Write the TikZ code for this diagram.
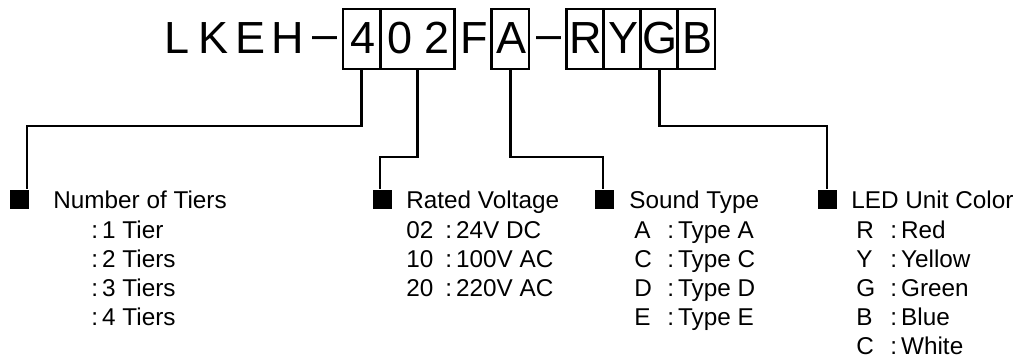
\documentclass[tikz,border=0pt]{standalone}
\usepackage{fontspec}
\setmainfont{Liberation Sans}
\begin{document}
\begin{tikzpicture}[x=1pt,y=-1pt,line width=2.8pt,line join=miter,
  ttl/.style={anchor=base,inner sep=0pt,font=\fontsize{45}{45}\selectfont},
  cbox/.style={draw,line width=2.8pt,minimum height=60pt,inner sep=0pt},
  bul/.style={fill=black,minimum size=19pt,inner sep=0pt},
  lbl/.style={anchor=base west,inner sep=0pt,font=\fontsize{24.3}{25}\selectfont}]
\useasboundingbox (0,0) rectangle (1022,361);
% boxes
\node[cbox,minimum width=37.2pt] (b4) at (361.6,39) {};
\node[cbox,minimum width=74.4pt] (b02) at (417.4,39) {};
\node[cbox,minimum width=37.2pt] (bA) at (510.4,39) {};
\node[cbox,minimum width=37.2pt] (bR) at (584.8,39) {};
\node[cbox,minimum width=37.2pt] (bY) at (622,39) {};
\node[cbox,minimum width=37.2pt] (bG) at (659.2,39) {};
\node[cbox,minimum width=37.2pt] (bB) at (696.4,39) {};
% title characters
\node[ttl] (tL) at (176.6,54) {L};
\node[ttl] (tK) at (213.8,54) {K};
\node[ttl] (tE) at (251,54) {E};
\node[ttl] (tH) at (288.2,54) {H};
\node[ttl] (td1) at (325.4,54) {\raisebox{5pt}{–}};
\node[ttl] (t4) at (362.6,54) {4};
\node[ttl] (t0) at (399.8,54) {0};
\node[ttl] (t2) at (437,54) {2};
\node[ttl] (tF) at (474.2,54) {F};
\node[ttl] (tA) at (511.4,54) {A};
\node[ttl] (td2) at (548.6,54) {\raisebox{5pt}{–}};
\node[ttl] (tR) at (585.8,54) {R};
\node[ttl] (tY) at (623,54) {Y};
\node[ttl] (tG) at (660.2,54) {G};
\node[ttl] (tB) at (697.4,54) {B};
% bullets
\node[bul] (q1) at (19.5,199.5) {};
\node[bul] (q2) at (382.5,199.5) {};
\node[bul] (q3) at (604,199.5) {};
\node[bul] (q4) at (827.5,199.5) {};
% connectors
\coordinate (k1) at (27,126);
\coordinate (k2) at (380,157);
\coordinate (k3) at (603,157);
\coordinate (k4) at (827,126);
\draw (b4.south) |- (k1) -- (k1 |- q1.north);
\draw (b02.south) |- (k2) -- (k2 |- q2.north);
\draw (bA.south) |- (k3) -- (k3 |- q3.north);
\draw (bG.south) |- (k4) -- (k4 |- q4.north);
% headers
\node[lbl] (h1) at (52,208) {Number of Tiers};
\node[lbl] (h2) at (405,208) {Rated Voltage};
\node[lbl] (h3) at (628,208) {Sound Type};
\node[lbl] (h4) at (850,208) {LED Unit Color};
% number of tiers
\node[lbl] (n1) at (90,238.5) {:\hspace{4pt}1 Tier};
\node[lbl] (n2) at (90,267.5) {:\hspace{4pt}2 Tiers};
\node[lbl] (n3) at (90,296.5) {:\hspace{4pt}3 Tiers};
\node[lbl] (n4) at (90,325.5) {:\hspace{4pt}4 Tiers};
% rated voltage
\node[lbl] (v1c) at (405,238.5) {02};
\node[lbl] (v2c) at (405,267.5) {10};
\node[lbl] (v3c) at (405,296.5) {20};
\node[lbl] (v1) at (444,238.5) {:\hspace{4pt}24V DC};
\node[lbl] (v2) at (444,267.5) {:\hspace{4pt}100V AC};
\node[lbl] (v3) at (444,296.5) {:\hspace{4pt}220V AC};
% sound type
\node[lbl] (s1c) at (633,238.5) {A};
\node[lbl] (s2c) at (633,267.5) {C};
\node[lbl] (s3c) at (633,296.5) {D};
\node[lbl] (s4c) at (633,325.5) {E};
\node[lbl] (s1) at (666,238.5) {:\hspace{4pt}Type A};
\node[lbl] (s2) at (666,267.5) {:\hspace{4pt}Type C};
\node[lbl] (s3) at (666,296.5) {:\hspace{4pt}Type D};
\node[lbl] (s4) at (666,325.5) {:\hspace{4pt}Type E};
% LED unit color
\node[lbl] (c1c) at (855,238.5) {R};
\node[lbl] (c2c) at (855,267.5) {Y};
\node[lbl] (c3c) at (855,296.5) {G};
\node[lbl] (c4c) at (855,325.5) {B};
\node[lbl] (c5c) at (855,354.5) {C};
\node[lbl] (c1) at (889,238.5) {:\hspace{4pt}Red};
\node[lbl] (c2) at (889,267.5) {:\hspace{4pt}Yellow};
\node[lbl] (c3) at (889,296.5) {:\hspace{4pt}Green};
\node[lbl] (c4) at (889,325.5) {:\hspace{4pt}Blue};
\node[lbl] (c5) at (889,354.5) {:\hspace{4pt}White};
\end{tikzpicture}
\end{document}
